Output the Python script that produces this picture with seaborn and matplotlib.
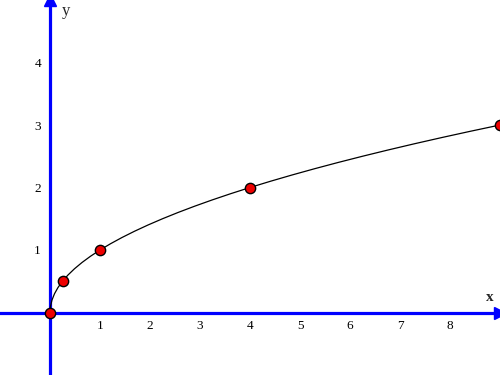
import matplotlib
matplotlib.use("Agg")
import matplotlib.pyplot as plt
import seaborn as sns
import pandas as pd

# curve samples (y = sqrt x)
curve_x = [0, 0.0025, 0.01, 0.04, 0.09, 0.16, 0.25, 0.36, 0.49, 0.64, 0.81, 1.0,
           1.21, 1.44, 1.69, 1.96, 2.25, 2.56, 2.89, 3.24, 3.61, 4.0, 4.41, 4.84,
           5.29, 5.76, 6.25, 6.76, 7.29, 7.84, 8.41, 9.0]
curve_y = [0, 0.05, 0.1, 0.2, 0.3, 0.4, 0.5, 0.6, 0.7, 0.8, 0.9, 1.0,
           1.1, 1.2, 1.3, 1.4, 1.5, 1.6, 1.7, 1.8, 1.9, 2.0, 2.1, 2.2,
           2.3, 2.4, 2.5, 2.6, 2.7, 2.8, 2.9, 3.0]
point_x = [0, 0.25, 1, 4, 9]
point_y = [0, 0.5, 1, 2, 3]
x_ticks = [1, 2, 3, 4, 5, 6, 7, 8]
y_ticks = [1, 2, 3, 4]

sns.set_style("white")
plt.rcParams['font.family'] = ['Liberation Serif', 'DejaVu Serif']

fig = plt.figure(figsize=(5, 3.75), dpi=100)
ax = fig.add_axes([0, 0, 1, 1])
ax.set_xlim(-1, 9)
ax.set_ylim(-1, 5)

blue = "#0000ff"
for s in ["top", "right"]:
    ax.spines[s].set_visible(False)
for s in ["left", "bottom"]:
    ax.spines[s].set_position(("data", 0))
    ax.spines[s].set_color(blue)
    ax.spines[s].set_linewidth(2.3)

ax.set_xticks(x_ticks)
ax.set_yticks(y_ticks)
ax.set_xticklabels([str(t) for t in x_ticks])
ax.set_yticklabels([str(t) for t in y_ticks])
ax.tick_params(axis="both", direction="inout", length=9, width=1, color=blue,
               labelsize=9.5, labelcolor="black")
ax.tick_params(axis="x", pad=1)
ax.tick_params(axis="y", pad=2)

# arrow heads
ax.plot([9], [0], marker=">", color=blue, markersize=9, clip_on=False, zorder=5)
ax.plot([0], [5], marker="^", color=blue, markersize=9, clip_on=False, zorder=5)

df_curve = pd.DataFrame({"x": curve_x, "y": curve_y})
sns.lineplot(data=df_curve, x="x", y="y", ax=ax, color="black", linewidth=0.9,
             sort=False, zorder=3)
df_pts = pd.DataFrame({"x": point_x, "y": point_y})
sns.scatterplot(data=df_pts, x="x", y="y", ax=ax, color="#ee0000", s=55,
                edgecolor="black", linewidth=1, zorder=4, clip_on=False)

ax.set_xlabel("")
ax.set_ylabel("")
ax.text(8.8, 0.24, "x", fontsize=11, fontweight="bold", ha="center", va="center")
ax.text(0.32, 4.82, "y", fontsize=12, ha="center", va="center")

fig.savefig("out.png", dpi=100)
